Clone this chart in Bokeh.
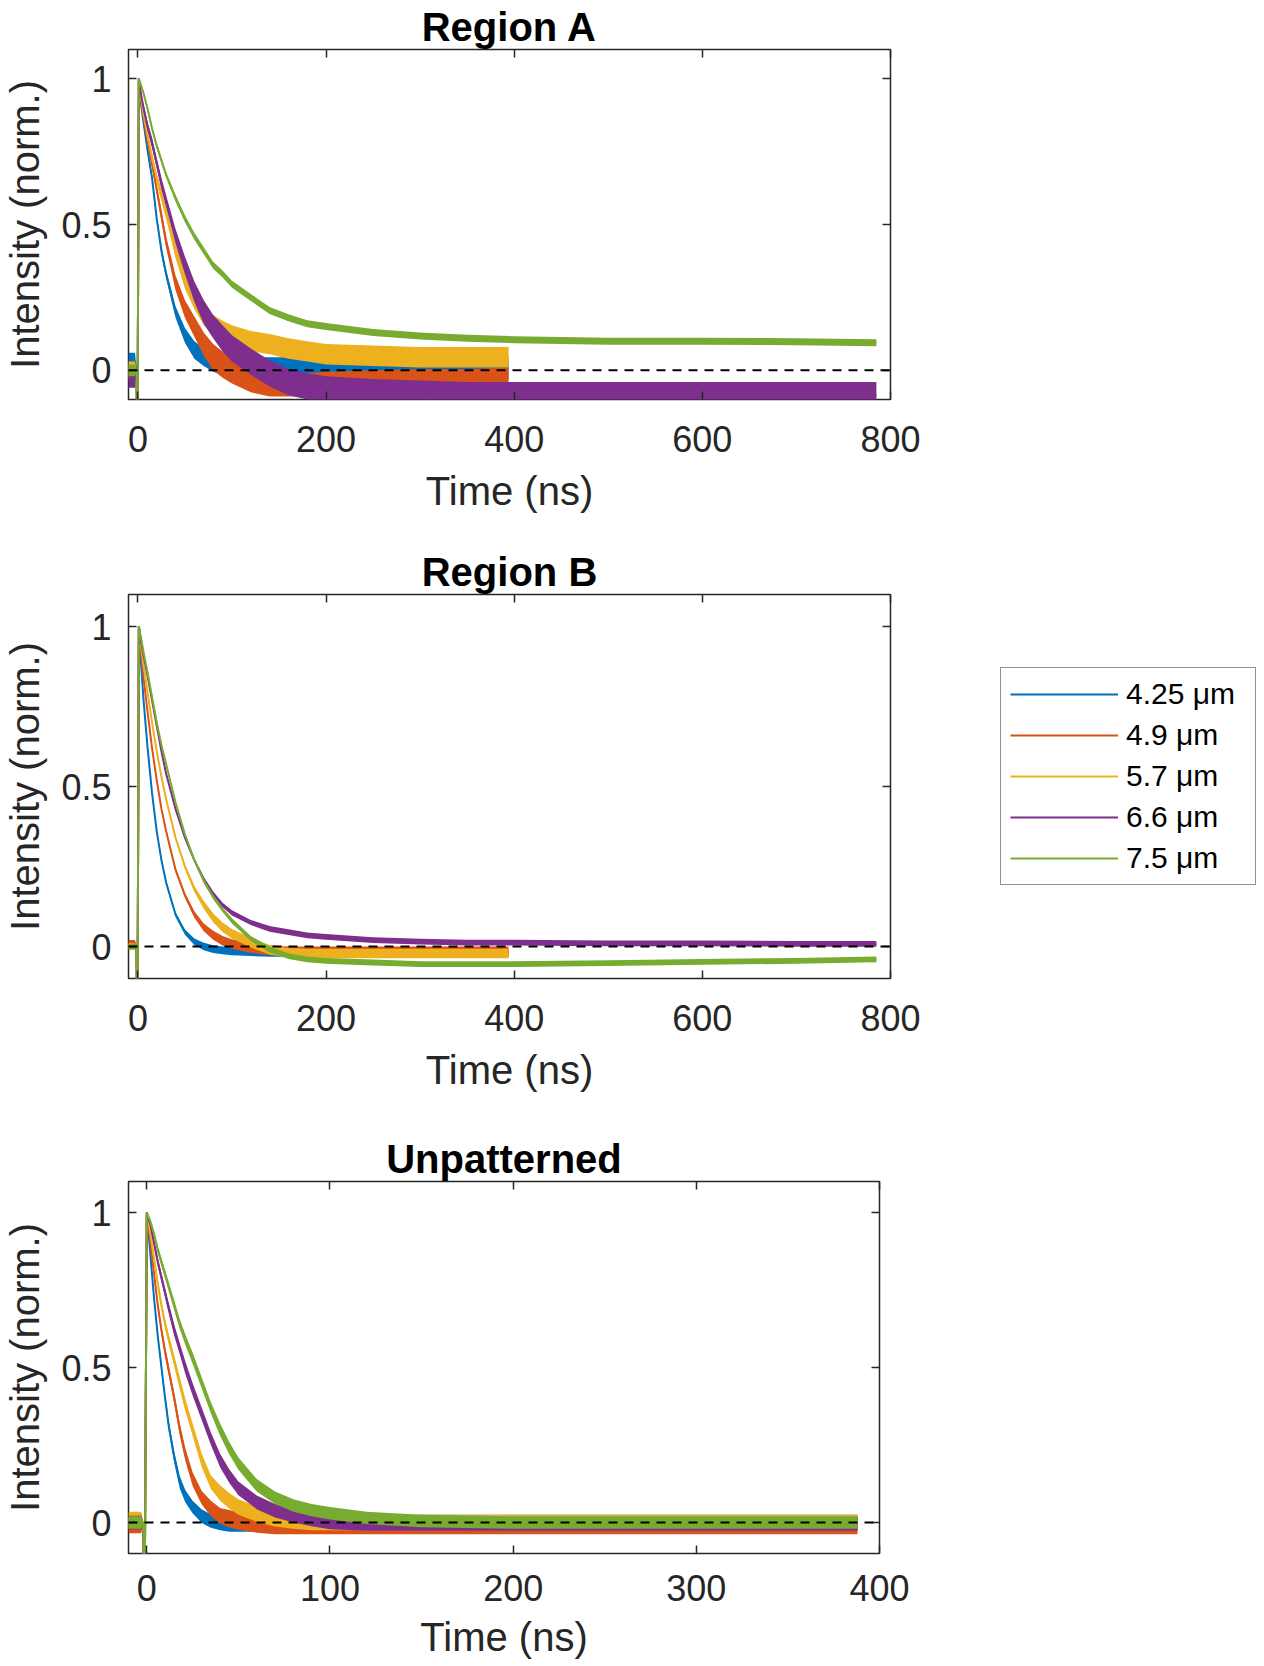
from bokeh.plotting import figure
from bokeh.layouts import column
from bokeh.models import (Range1d, LinearAxis, FixedTicker, Span, Legend,
                          LegendItem, CustomJSTickFormatter)
from bokeh.embed import file_html
from bokeh.resources import INLINE

# ---------------- data ----------------
LABELS = ["4.25 \u03bcm", "4.9 \u03bcm", "5.7 \u03bcm", "6.6 \u03bcm", "7.5 \u03bcm"]
COLORS = ["#0072BD", "#D95319", "#EDB120", "#7E2F8E", "#77AC30"]

# time grids (ns)
T_AB_SHORT = [-10, -3, -1.5, -0.5, 1, 3, 6, 10, 15, 20, 25, 30, 40, 50, 60, 70, 80, 90, 100,
              120, 140, 160, 180, 200, 250, 300, 350, 394]
T_AB_LONG = [-10, -3, -1.5, -0.5, 1, 3, 6, 10, 15, 20, 25, 30, 40, 50, 60, 70, 80, 90, 100,
             120, 140, 160, 180, 200, 250, 300, 350, 400, 500, 600, 700, 785]
T_C = [-10, -3, -2, -1.2, 0, 2, 4, 6, 8, 10, 12, 15, 18, 21, 25, 30, 35, 40, 45, 50,
       60, 70, 80, 90, 100, 120, 150, 200, 250, 300, 350, 388]

# Region A (mean level and noise half-width)
A_BLUE = [0.03, 0.03, 0.0, -0.3, 1.0, 0.92, 0.85, 0.76, 0.66, 0.52, 0.41, 0.33, 0.20, 0.12, 0.07,
          0.045, 0.03, 0.02, 0.015, 0.01, 0.01, 0.01, 0.01, 0.01, 0.01, 0.01, 0.01, 0.01]
A_BLUE_N = [0.03, 0.03, 0, 0, 0, 0.008, 0.01, 0.012, 0.012, 0.012, 0.015, 0.015, 0.02, 0.025, 0.03,
            0.03, 0.035, 0.035, 0.035, 0.035, 0.035, 0.035, 0.035, 0.035, 0.035, 0.035, 0.035, 0.035]
A_ORANGE = [0.0, 0.0, 0.0, -0.3, 1.0, 0.93, 0.87, 0.79, 0.71, 0.62, 0.53, 0.44, 0.30, 0.21, 0.15,
            0.09, 0.045, 0.02, 0.0, -0.03, -0.045, -0.05, -0.05, -0.045, -0.04, -0.035, -0.035, -0.03]
A_ORANGE_N = [0.03, 0.03, 0, 0, 0, 0.008, 0.01, 0.012, 0.015, 0.015, 0.02, 0.02, 0.025, 0.03, 0.035,
              0.04, 0.045, 0.045, 0.045, 0.045, 0.045, 0.04, 0.04, 0.04, 0.04, 0.04, 0.04, 0.04]
A_YELLOW = [0.0, 0.0, 0.0, -0.3, 1.0, 0.94, 0.88, 0.81, 0.73, 0.66, 0.60, 0.54, 0.41, 0.31, 0.24,
            0.19, 0.155, 0.135, 0.12, 0.10, 0.09, 0.075, 0.065, 0.055, 0.05, 0.045, 0.045, 0.045]
A_YELLOW_N = [0.03, 0.03, 0, 0, 0, 0.008, 0.01, 0.012, 0.015, 0.015, 0.02, 0.02, 0.025, 0.03, 0.03,
              0.035, 0.035, 0.035, 0.035, 0.035, 0.035, 0.035, 0.035, 0.035, 0.035, 0.035, 0.035, 0.035]
A_PURPLE = [-0.03, -0.03, 0.0, -0.3, 1.0, 0.95, 0.9, 0.84, 0.78, 0.71, 0.64, 0.58, 0.46, 0.36, 0.27,
            0.2, 0.15, 0.11, 0.075, 0.03, -0.01, -0.04, -0.055, -0.065, -0.075, -0.08, -0.085,
            -0.085, -0.085, -0.085, -0.085, -0.085]
A_PURPLE_N = [0.03, 0.03, 0, 0, 0, 0.01, 0.012, 0.015, 0.018, 0.018, 0.02, 0.02, 0.025, 0.03, 0.035,
              0.04, 0.04, 0.045, 0.045, 0.045, 0.045, 0.045, 0.045, 0.045, 0.045, 0.045, 0.045,
              0.045, 0.045, 0.045, 0.045, 0.045]
A_GREEN = [0.0, 0.0, 0.0, -0.3, 1.0, 0.98, 0.95, 0.9, 0.83, 0.77, 0.72, 0.67, 0.59, 0.52, 0.46,
           0.41, 0.36, 0.33, 0.295, 0.25, 0.205, 0.18, 0.16, 0.15, 0.13, 0.118, 0.11, 0.105,
           0.10, 0.10, 0.098, 0.095]
A_GREEN_N = [0.02, 0.02, 0, 0, 0, 0.008, 0.008, 0.01, 0.01, 0.01, 0.01, 0.01, 0.012, 0.012, 0.012,
             0.012, 0.012, 0.012, 0.012, 0.012, 0.012, 0.012, 0.012, 0.012, 0.012, 0.012, 0.012,
             0.012, 0.012, 0.012, 0.012, 0.012]

# Region B
B_BLUE = [0.0, 0.0, 0.0, -0.3, 1.0, 0.9, 0.77, 0.63, 0.48, 0.36, 0.27, 0.2, 0.1, 0.045, 0.015,
          0.0, -0.008, -0.012, -0.015, -0.018, -0.02, -0.02, -0.02, -0.02, -0.02, -0.02, -0.02, -0.02]
B_BLUE_N = [0.01, 0.01, 0, 0, 0, 0.004, 0.004, 0.005, 0.005, 0.005, 0.006, 0.006, 0.007, 0.008, 0.01,
            0.012, 0.012, 0.012, 0.012, 0.012, 0.012, 0.012, 0.012, 0.012, 0.012, 0.012, 0.012, 0.012]
B_ORANGE = [0.01, 0.01, 0.0, -0.3, 1.0, 0.93, 0.84, 0.74, 0.62, 0.52, 0.43, 0.36, 0.24, 0.16, 0.1,
            0.06, 0.035, 0.018, 0.008, -0.005, -0.012, -0.015, -0.015, -0.015, -0.015, -0.015,
            -0.015, -0.015]
B_ORANGE_N = [0.01, 0.01, 0, 0, 0, 0.004, 0.004, 0.005, 0.005, 0.005, 0.006, 0.006, 0.007, 0.008,
              0.01, 0.012, 0.014, 0.015, 0.015, 0.015, 0.015, 0.015, 0.015, 0.015, 0.015, 0.015,
              0.015, 0.015]
B_YELLOW = [0.0, 0.0, 0.0, -0.3, 1.0, 0.95, 0.88, 0.8, 0.7, 0.61, 0.53, 0.46, 0.34, 0.25, 0.18,
            0.13, 0.09, 0.06, 0.04, 0.012, -0.01, -0.02, -0.022, -0.022, -0.022, -0.022, -0.022, -0.022]
B_YELLOW_N = [0.01, 0.01, 0, 0, 0, 0.004, 0.004, 0.005, 0.005, 0.005, 0.006, 0.006, 0.007, 0.008,
              0.01, 0.012, 0.014, 0.015, 0.015, 0.015, 0.015, 0.015, 0.015, 0.015, 0.015, 0.015,
              0.015, 0.015]
B_PURPLE = [0.0, 0.0, 0.0, -0.3, 1.0, 0.96, 0.91, 0.85, 0.77, 0.69, 0.61, 0.54, 0.43, 0.34, 0.27,
            0.21, 0.165, 0.13, 0.105, 0.075, 0.055, 0.045, 0.035, 0.03, 0.02, 0.015, 0.012, 0.012,
            0.01, 0.01, 0.008, 0.008]
B_PURPLE_N = [0.008, 0.008, 0, 0, 0, 0.004, 0.004, 0.005, 0.005, 0.005, 0.005, 0.005, 0.006, 0.006,
              0.006, 0.007, 0.007, 0.007, 0.008, 0.008, 0.009, 0.009, 0.009, 0.009, 0.009, 0.009,
              0.009, 0.009, 0.009, 0.009, 0.009, 0.009]
B_GREEN = [0.0, 0.0, 0.0, -0.3, 1.0, 0.97, 0.92, 0.86, 0.78, 0.7, 0.63, 0.57, 0.45, 0.35, 0.27,
           0.205, 0.155, 0.115, 0.08, 0.025, -0.01, -0.03, -0.04, -0.045, -0.05, -0.055, -0.055,
           -0.055, -0.052, -0.048, -0.045, -0.04]
B_GREEN_N = [0.008, 0.008, 0, 0, 0, 0.004, 0.004, 0.005, 0.005, 0.005, 0.005, 0.005, 0.006, 0.006,
             0.006, 0.007, 0.007, 0.007, 0.008, 0.008, 0.009, 0.009, 0.009, 0.009, 0.009, 0.009,
             0.009, 0.009, 0.009, 0.009, 0.009, 0.009]

# Unpatterned
C_BLUE = [0.005, 0.005, 0.0, -0.3, 1.0, 0.86, 0.72, 0.6, 0.5, 0.4, 0.31, 0.21, 0.13, 0.085, 0.05,
          0.02, 0.005, 0.0, -0.005, -0.005, -0.005, -0.005, -0.005, -0.005, -0.005, -0.005,
          0.0, 0.0, 0.0, 0.0, 0.0, 0.0]
C_BLUE_N = [0.025, 0.025, 0, 0, 0, 0.01, 0.012, 0.014, 0.015, 0.016, 0.017, 0.018, 0.02, 0.02, 0.02,
            0.022, 0.022, 0.025, 0.025, 0.025, 0.025, 0.025, 0.025, 0.025, 0.025, 0.025, 0.025,
            0.025, 0.025, 0.025, 0.025, 0.025]
C_ORANGE = [-0.01, -0.01, 0.0, -0.3, 1.0, 0.9, 0.8, 0.7, 0.62, 0.55, 0.49, 0.4, 0.3, 0.22, 0.14,
            0.08, 0.045, 0.022, 0.012, 0.005, -0.005, -0.01, -0.01, -0.01, -0.01, -0.01, -0.01,
            -0.01, -0.01, -0.01, -0.01, -0.01]
C_ORANGE_N = [0.025, 0.025, 0, 0, 0, 0.01, 0.012, 0.014, 0.015, 0.016, 0.017, 0.018, 0.02, 0.02,
              0.022, 0.022, 0.025, 0.025, 0.028, 0.028, 0.028, 0.028, 0.028, 0.028, 0.028, 0.028,
              0.028, 0.028, 0.028, 0.028, 0.028, 0.028]
C_YELLOW = [0.01, 0.01, 0.0, -0.3, 1.0, 0.93, 0.85, 0.77, 0.7, 0.64, 0.59, 0.52, 0.45, 0.38, 0.3,
            0.2, 0.13, 0.095, 0.07, 0.05, 0.027, 0.012, 0.005, 0.0, 0.0, 0.0, 0.0, 0.0, 0.0, 0.0,
            0.0, 0.0]
C_YELLOW_N = [0.025, 0.025, 0, 0, 0, 0.01, 0.012, 0.014, 0.015, 0.016, 0.017, 0.018, 0.02, 0.02,
              0.02, 0.022, 0.022, 0.025, 0.025, 0.025, 0.025, 0.025, 0.025, 0.025, 0.025, 0.025,
              0.025, 0.025, 0.025, 0.025, 0.025, 0.025]
C_PURPLE = [0.0, 0.0, 0.0, -0.3, 1.0, 0.96, 0.9, 0.84, 0.79, 0.74, 0.69, 0.62, 0.56, 0.5, 0.43,
            0.35, 0.27, 0.2, 0.15, 0.11, 0.065, 0.038, 0.022, 0.01, 0.0, -0.005, -0.005, -0.005,
            -0.005, -0.005, -0.005, -0.005]
C_PURPLE_N = [0.022, 0.022, 0, 0, 0, 0.01, 0.012, 0.014, 0.015, 0.016, 0.017, 0.018, 0.018, 0.02,
              0.02, 0.02, 0.02, 0.022, 0.022, 0.022, 0.022, 0.022, 0.022, 0.022, 0.022, 0.022,
              0.022, 0.022, 0.022, 0.022, 0.022, 0.022]
C_GREEN = [0.0, 0.0, 0.0, -0.3, 1.0, 0.97, 0.93, 0.88, 0.84, 0.8, 0.76, 0.7, 0.64, 0.59, 0.53,
           0.45, 0.37, 0.3, 0.24, 0.19, 0.12, 0.08, 0.055, 0.04, 0.03, 0.015, 0.005, 0.0, 0.0,
           0.0, 0.0, 0.0]
C_GREEN_N = [0.02, 0.02, 0, 0, 0, 0.008, 0.01, 0.012, 0.013, 0.014, 0.015, 0.016, 0.016, 0.017,
             0.018, 0.018, 0.018, 0.02, 0.02, 0.02, 0.02, 0.02, 0.02, 0.02, 0.02, 0.02, 0.02,
             0.02, 0.02, 0.02, 0.02, 0.02]

X_TICKS_AB = [0, 200, 400, 600, 800]
X_TICKS_C = [0, 100, 200, 300, 400]
Y_TICKS = [0, 0.5, 1]

# ---------------- styling ----------------
FONT = "Liberation Sans"
AX = "#262626"


def style_axis(ax, ticks, mirror=False, label=None, is_y=False, std=22, lstd=10):
    ax.ticker = FixedTicker(ticks=ticks)
    ax.major_tick_in = 8
    ax.major_tick_out = 0
    ax.minor_tick_line_color = None
    ax.major_tick_line_color = AX
    ax.major_tick_line_width = 1.5
    ax.axis_line_color = None
    if mirror:
        ax.formatter = CustomJSTickFormatter(code="return ''")
        ax.major_label_text_font_size = "0px"
        ax.major_label_standoff = 0
        return
    ax.formatter = CustomJSTickFormatter(code="return tick.toString()")
    ax.major_label_text_font = FONT
    ax.major_label_text_font_size = "36px"
    ax.major_label_text_color = AX
    ax.major_label_standoff = std
    if label:
        ax.axis_label = label
        ax.axis_label_text_font = FONT
        ax.axis_label_text_font_size = "40px"
        ax.axis_label_text_font_style = "normal"
        ax.axis_label_text_color = AX
        ax.axis_label_standoff = lstd


def panel(title, xmax, xticks, series, fw, fh, bl, bt, br, bb, xstd, xlstd):
    p = figure(frame_width=fw, frame_height=fh,
               x_range=Range1d(-10, xmax), y_range=Range1d(-0.1, 1.1),
               output_backend="svg", toolbar_location=None,
               min_border_left=bl, min_border_top=bt, min_border_right=br,
               min_border_bottom=bb, background_fill_color="white",
               border_fill_color="white", outline_line_color=AX,
               outline_line_width=1.5)
    p.grid.visible = False
    p.title.text = title
    p.title.align = "center"
    p.title.text_font = FONT
    p.title.text_font_size = "40px"
    p.title.text_font_style = "bold"
    p.title.text_color = "black"
    p.title.standoff = 2
    style_axis(p.xaxis[0], xticks, label="Time (ns)", std=xstd, lstd=xlstd)
    style_axis(p.yaxis[0], Y_TICKS, label="Intensity (norm.)", is_y=True, std=17, lstd=11)
    top = LinearAxis()
    p.add_layout(top, "above")
    style_axis(top, xticks, mirror=True)
    right = LinearAxis()
    p.add_layout(right, "right")
    style_axis(right, Y_TICKS, mirror=True)
    lines = []
    for t, v, n, c in series:
        lo = [a - b for a, b in zip(v, n)]
        hi = [a + b for a, b in zip(v, n)]
        p.varea(x=t, y1=lo, y2=hi, fill_color=c, fill_alpha=1.0)
        lines.append(p.line(t, v, line_color=c, line_width=2))
    p.add_layout(Span(location=0, dimension="width", line_color="black",
                      line_width=2, line_dash="9 7"))
    return p, lines


pA, _ = panel("Region A", 800, X_TICKS_AB, [
    (T_AB_SHORT, A_BLUE, A_BLUE_N, COLORS[0]),
    (T_AB_SHORT, A_ORANGE, A_ORANGE_N, COLORS[1]),
    (T_AB_SHORT, A_YELLOW, A_YELLOW_N, COLORS[2]),
    (T_AB_LONG, A_PURPLE, A_PURPLE_N, COLORS[3]),
    (T_AB_LONG, A_GREEN, A_GREEN_N, COLORS[4]),
], 762, 350, 124, 49, 30, 140, 26, 14)

pB, linesB = panel("Region B", 800, X_TICKS_AB, [
    (T_AB_SHORT, B_BLUE, B_BLUE_N, COLORS[0]),
    (T_AB_SHORT, B_ORANGE, B_ORANGE_N, COLORS[1]),
    (T_AB_SHORT, B_YELLOW, B_YELLOW_N, COLORS[2]),
    (T_AB_LONG, B_PURPLE, B_PURPLE_N, COLORS[3]),
    (T_AB_LONG, B_GREEN, B_GREEN_N, COLORS[4]),
], 762, 384, 124, 55, 366, 131, 26, 14)

pC, _ = panel("Unpatterned", 400, X_TICKS_C, [
    (T_C, C_BLUE, C_BLUE_N, COLORS[0]),
    (T_C, C_ORANGE, C_ORANGE_N, COLORS[1]),
    (T_C, C_YELLOW, C_YELLOW_N, COLORS[2]),
    (T_C, C_PURPLE, C_PURPLE_N, COLORS[3]),
    (T_C, C_GREEN, C_GREEN_N, COLORS[4]),
], 751, 372, 126, 72, 31, 104, 21, 11)

# legend to the right of Region B
items = [LegendItem(label=lab, renderers=[r]) for lab, r in zip(LABELS, linesB)]
leg = Legend(items=items, location=(-86, 93), padding=9, spacing=7,
             glyph_width=108, glyph_height=30, label_height=30, label_width=120,
             label_standoff=8, label_text_font=FONT, label_text_font_size="30px",
             label_text_color="black", border_line_color=AX,
             border_line_width=1.2, background_fill_color="white",
             background_fill_alpha=1.0, margin=0)
pB.add_layout(leg, "right")

layout = column(pA, pB, pC)
open("out.html", "w").write(file_html(layout, INLINE))
